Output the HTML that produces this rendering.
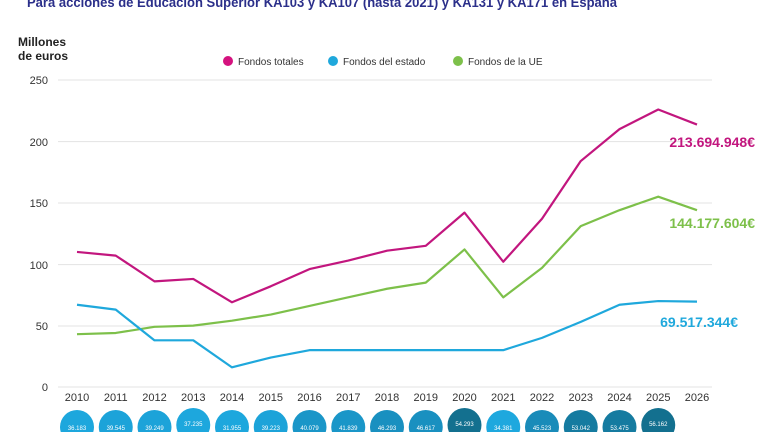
<!DOCTYPE html>
<html><head><meta charset="utf-8"><style>
body{margin:0;width:768px;height:432px;overflow:hidden;background:#fff;font-family:"Liberation Sans",sans-serif}
</style></head><body>
<svg width="768" height="432" viewBox="0 0 768 432" xmlns="http://www.w3.org/2000/svg" font-family="Liberation Sans, sans-serif">
<text x="27" y="7" font-size="14" font-weight="bold" fill="#2b2f8a" textLength="590" lengthAdjust="spacingAndGlyphs">Para acciones de Educación Superior KA103 y KA107 (hasta 2021) y KA131 y KA171 en España</text>
<text x="18" y="46" font-size="12" font-weight="bold" fill="#222">Millones</text>
<text x="18" y="60" font-size="12" font-weight="bold" fill="#222">de euros</text>
<circle cx="228" cy="61" r="5" fill="#d4127e"/><text x="238" y="65" font-size="10" fill="#333">Fondos totales</text>
<circle cx="333" cy="61" r="5" fill="#1fa8dc"/><text x="343" y="65" font-size="10" fill="#333">Fondos del estado</text>
<circle cx="458" cy="61" r="5" fill="#7dc04a"/><text x="468" y="65" font-size="10" fill="#333">Fondos de la UE</text>
<g stroke="#e3e3e3" stroke-width="1">
<line x1="58" x2="712" y1="80" y2="80"/><line x1="58" x2="712" y1="141.6" y2="141.6"/><line x1="58" x2="712" y1="203" y2="203"/><line x1="58" x2="712" y1="264.6" y2="264.6"/><line x1="58" x2="712" y1="326" y2="326"/><line x1="58" x2="712" y1="387" y2="387"/>
</g>
<g font-size="11" fill="#333" text-anchor="end">
<text x="48" y="84">250</text><text x="48" y="146">200</text><text x="48" y="207">150</text><text x="48" y="269">100</text><text x="48" y="330">50</text><text x="48" y="391">0</text>
</g>
<g font-size="11" fill="#333" text-anchor="middle">
<text x="77" y="401">2010</text><text x="115.75" y="401">2011</text><text x="154.5" y="401">2012</text><text x="193.25" y="401">2013</text><text x="232" y="401">2014</text><text x="270.75" y="401">2015</text><text x="309.5" y="401">2016</text><text x="348.25" y="401">2017</text><text x="387" y="401">2018</text><text x="425.75" y="401">2019</text><text x="464.5" y="401">2020</text><text x="503.25" y="401">2021</text><text x="542" y="401">2022</text><text x="580.75" y="401">2023</text><text x="619.5" y="401">2024</text><text x="658.25" y="401">2025</text><text x="697" y="401">2026</text>
</g>
<g transform="translate(77,387) scale(38.75,-1.228)" fill="none" stroke-width="2.2" stroke-linejoin="round">
<polyline vector-effect="non-scaling-stroke" stroke="#7dc04a" points="0,43 1,44 2,49 3,50 4,54 5,59 6,66 7,73 8,80 9,85 10,112 11,73 12,97 13,131 14,144 15,155 16,144"/>
<polyline vector-effect="non-scaling-stroke" stroke="#1fa8dc" points="0,67 1,63 2,38 3,38 4,16 5,24 6,30 7,30 8,30 9,30 10,30 11,30 12,40 13,53 14,67 15,70 16,69.5"/>
<polyline vector-effect="non-scaling-stroke" stroke="#c2167e" points="0,110 1,107 2,86 3,88 4,69 5,82 6,96 7,103 8,111 9,115 10,142 11,102 12,137 13,184 14,210 15,226 16,213.7"/>
</g>
<text x="755" y="147" font-size="14" font-weight="bold" fill="#c2167e" text-anchor="end">213.694.948€</text>
<text x="755" y="228" font-size="14" font-weight="bold" fill="#7dc04a" text-anchor="end">144.177.604€</text>
<text x="738" y="327" font-size="14" font-weight="bold" fill="#1fa8dc" text-anchor="end">69.517.344€</text>
<g font-size="6" fill="#fff" text-anchor="middle">
<circle cx="77" cy="427" r="17" fill="#1da7dd"/><text x="77" y="430">36.183</text>
<circle cx="115.75" cy="427" r="17" fill="#1ca3d9"/><text x="115.75" y="430">39.545</text>
<circle cx="154.5" cy="427" r="17" fill="#1ca3d9"/><text x="154.5" y="430">39.249</text>
<circle cx="193.25" cy="425" r="17" fill="#1da7dd"/><text x="193.25" y="426">37.235</text>
<circle cx="232" cy="427" r="17" fill="#1da7dd"/><text x="232" y="430">31.955</text>
<circle cx="270.75" cy="427" r="17" fill="#1ca3d9"/><text x="270.75" y="430">39.223</text>
<circle cx="309.5" cy="427" r="17" fill="#1a96c8"/><text x="309.5" y="430">40.079</text>
<circle cx="348.25" cy="427" r="17" fill="#1a96c8"/><text x="348.25" y="430">41.839</text>
<circle cx="387" cy="427" r="17" fill="#1990c0"/><text x="387" y="430">46.293</text>
<circle cx="425.75" cy="427" r="17" fill="#1990c0"/><text x="425.75" y="430">46.617</text>
<circle cx="464.5" cy="425" r="17" fill="#13708f"/><text x="464.5" y="426">54.293</text>
<circle cx="503.25" cy="427" r="17" fill="#1ea8de"/><text x="503.25" y="430">34.381</text>
<circle cx="542" cy="427" r="17" fill="#198bb9"/><text x="542" y="430">45.523</text>
<circle cx="580.75" cy="427" r="17" fill="#157ba0"/><text x="580.75" y="430">53.042</text>
<circle cx="619.5" cy="427" r="17" fill="#157ba0"/><text x="619.5" y="430">53.475</text>
<circle cx="658.25" cy="425" r="17" fill="#13708f"/><text x="658.25" y="426">56.162</text>
</g>
</svg>
</body></html>
